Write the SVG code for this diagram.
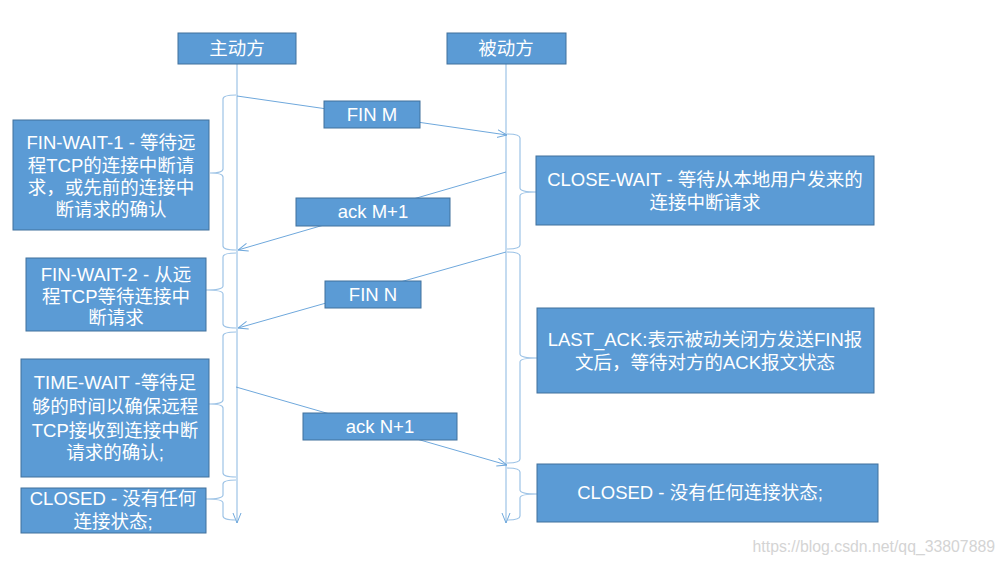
<svg xmlns="http://www.w3.org/2000/svg" width="1005" height="565" viewBox="0 0 1005 565">
<defs>
<style>
.box{fill:#5B9BD5;stroke:#41719C;stroke-width:1}
.t{fill:#fff;font-family:"Liberation Sans","Noto Sans CJK SC",sans-serif;font-size:18.5px;text-anchor:middle}
.ln{fill:none;stroke:#6FA8DC;stroke-width:1}
.life{fill:none;stroke:#9DC3E6;stroke-width:1.2}
.wm{fill:#d4d4d4;font-family:"Liberation Sans",sans-serif;font-size:15.8px;text-anchor:end}
</style>
<marker id="ah" viewBox="0 0 10 10" refX="10" refY="5" markerWidth="10" markerHeight="10" markerUnits="userSpaceOnUse" orient="auto">
<path d="M0,1 L10,5 L0,9" fill="none" stroke="#6FA8DC" stroke-width="1"/>
</marker>
</defs>
<rect width="1005" height="565" fill="#fff"/>

<g id="connectors">
<line class="life" x1="237" y1="64" x2="237" y2="523" marker-end="url(#ah)"/>
<line class="life" x1="506" y1="64" x2="506" y2="523" marker-end="url(#ah)"/>
<line class="ln" x1="237" y1="96" x2="507" y2="135" marker-end="url(#ah)"/>
<line class="ln" x1="506" y1="172" x2="238" y2="250" marker-end="url(#ah)"/>
<line class="ln" x1="506" y1="252" x2="238" y2="328" marker-end="url(#ah)"/>
<line class="ln" x1="236" y1="387" x2="507" y2="465" marker-end="url(#ah)"/>
<path class="life" d="M236,95 Q223,95 223,99 L223,169 Q223,173 210,173 Q223,173 223,177 L223,246 Q223,250 236,250"/>
<path class="life" d="M236,253 Q223,253 223,257 L223,286 Q223,290 206,290 Q223,290 223,294 L223,324 Q223,328 236,328"/>
<path class="life" d="M236,332 Q223,332 223,336 L223,400 Q223,404 209,404 Q223,404 223,408 L223,473 Q223,477 236,477"/>
<path class="life" d="M236,480 Q223,480 223,484 L223,495 Q223,499 206,499 Q223,499 223,503 L223,516 Q223,520 236,520"/>
<path class="life" d="M507,134 Q520,134 520,138 L520,188 Q520,192 536,192 Q520,192 520,196 L520,245 Q520,249 507,249"/>
<path class="life" d="M507,252 Q520,252 520,256 L520,354 Q520,358 537,358 Q520,358 520,362 L520,459 Q520,463 507,463"/>
<path class="life" d="M507,468 Q520,468 520,472 L520,490 Q520,494 537,494 Q520,494 520,498 L520,516 Q520,520 507,520"/>
</g>

<g id="n-active"><rect class="box" x="178" y="33" width="118" height="31"/><text class="t" x="237" y="55">主动方</text></g>
<g id="n-passive"><rect class="box" x="447" y="33" width="119" height="31"/><text class="t" x="506" y="55">被动方</text></g>

<g id="m-finm"><rect class="box" x="324" y="101" width="96" height="27"/><text class="t" x="372" y="121">FIN M</text></g>
<g id="m-ackm"><rect class="box" x="296" y="198" width="154" height="28"/><text class="t" x="373" y="218">ack M+1</text></g>
<g id="m-finn"><rect class="box" x="325" y="281" width="96" height="27"/><text class="t" x="373" y="301">FIN N</text></g>
<g id="m-ackn"><rect class="box" x="303" y="413" width="154" height="27"/><text class="t" x="380" y="433">ack N+1</text></g>

<g id="s-finwait1"><rect class="box" x="13" y="120" width="196" height="110"/>
<text class="t" x="111"><tspan x="111" y="149">FIN-WAIT-1 - 等待远</tspan><tspan x="111" y="172">程TCP的连接中断请</tspan><tspan x="111" y="194">求，或先前的连接中</tspan><tspan x="111" y="216">断请求的确认</tspan></text></g>
<g id="s-finwait2"><rect class="box" x="26" y="258" width="180" height="73"/>
<text class="t" x="116"><tspan x="116" y="281">FIN-WAIT-2 - 从远</tspan><tspan x="116" y="303">程TCP等待连接中</tspan><tspan x="116" y="324">断请求</tspan></text></g>
<g id="s-timewait"><rect class="box" x="21" y="359" width="188" height="118"/>
<text class="t" x="115"><tspan x="115" y="389">TIME-WAIT -等待足</tspan><tspan x="115" y="413">够的时间以确保远程</tspan><tspan x="115" y="437">TCP接收到连接中断</tspan><tspan x="115" y="459">请求的确认;</tspan></text></g>
<g id="s-closed-l"><rect class="box" x="21" y="488" width="185" height="45"/>
<text class="t" x="113"><tspan x="113" y="505">CLOSED - 没有任何</tspan><tspan x="113" y="528">连接状态;</tspan></text></g>

<g id="s-closewait"><rect class="box" x="536" y="156" width="338" height="69"/>
<text class="t" x="705"><tspan x="705" y="186">CLOSE-WAIT - 等待从本地用户发来的</tspan><tspan x="705" y="209">连接中断请求</tspan></text></g>
<g id="s-lastack"><rect class="box" x="537" y="308" width="337" height="85"/>
<text class="t" x="705"><tspan x="705" y="346">LAST_ACK:表示被动关闭方发送FIN报</tspan><tspan x="705" y="369">文后，等待对方的ACK报文状态</tspan></text></g>
<g id="s-closed-r"><rect class="box" x="537" y="464" width="341" height="58"/>
<text class="t" x="700" y="499">CLOSED - 没有任何连接状态;</text></g>

<text class="wm" x="995" y="552">https://blog.csdn.net/qq_33807889</text>
</svg>
